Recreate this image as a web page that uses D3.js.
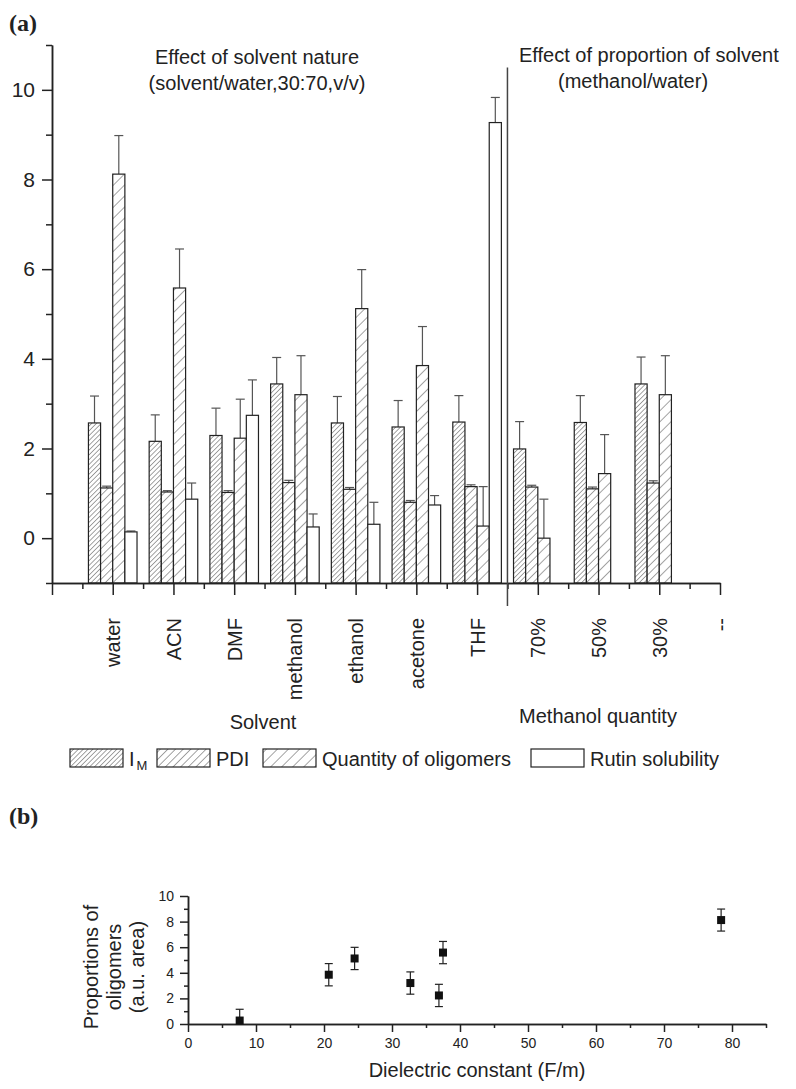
<!DOCTYPE html>
<html>
<head>
<meta charset="utf-8">
<script src="https://cdn.jsdelivr.net/npm/d3@7"></script>
<style>
  body { margin: 0; background: #fff; }
  svg { display: block; font-family: "Liberation Sans", Arial, sans-serif; }
</style>
</head>
<body>
<div id="chart"></div>
<script>
// ---- data, panel (a) ----
const categories = ["water", "ACN", "DMF", "methanol", "ethanol", "acetone", "THF", "70%", "50%", "30%"];
const tickLabels = ["water", "ACN", "DMF", "methanol", "ethanol", "acetone", "THF", "70%", "50%", "30%", "--"];
const imValues    = [2.57, 2.16, 2.29, 3.44, 2.57, 2.48, 2.59, 1.99, 2.58, 3.44];
const imErr       = [0.60, 0.59, 0.61, 0.59, 0.59, 0.59, 0.59, 0.61, 0.60, 0.60];
const pdiValues   = [1.12, 1.03, 1.02, 1.24, 1.09, 0.80, 1.15, 1.14, 1.10, 1.23];
const pdiErr      = [0.04, 0.03, 0.04, 0.05, 0.04, 0.04, 0.04, 0.04, 0.04, 0.05];
const oligValues  = [8.12, 5.58, 2.23, 3.20, 5.12, 3.85, 0.27, 0.00, 1.44, 3.20];
const oligErr     = [0.86, 0.87, 0.87, 0.87, 0.87, 0.87, 0.88, 0.87, 0.87, 0.87];
const rutinValues = [0.14, 0.87, 2.74, 0.25, 0.31, 0.74, 9.27, null, null, null];
const rutinErr    = [0.02, 0.36, 0.79, 0.29, 0.49, 0.21, 0.56, null, null, null];
const seriesNames = ["I", "PDI", "Quantity of oligomers", "Rutin solubility"];

// ---- data, panel (b) ----
const dielectric  = [78.4, 37.5, 36.9, 32.7, 24.5, 20.7, 7.6];
const oligProp    = [8.12, 5.58, 2.23, 3.20, 5.12, 3.85, 0.27];
const oligPropErr = [0.86, 0.87, 0.87, 0.87, 0.87, 0.87, 0.88];

const W = 796, H = 1089;
const svg = d3.select("#chart").append("svg")
  .attr("width", W).attr("height", H);

const ink = "#222";

// hatch patterns
const defs = svg.append("defs");
const hatch = [
  {id: "h0", gap: 3.4},
  {id: "h1", gap: 5.4},
  {id: "h2", gap: 7.8}
];
hatch.forEach(h => {
  const p = defs.append("pattern")
    .attr("id", h.id)
    .attr("patternUnits", "userSpaceOnUse")
    .attr("width", h.gap).attr("height", h.gap)
    .attr("patternTransform", "rotate(45)");
  p.append("rect").attr("width", h.gap).attr("height", h.gap).attr("fill", "#fff");
  p.append("line")
    .attr("x1", 0).attr("y1", 0).attr("x2", 0).attr("y2", h.gap)
    .attr("stroke", "#333").attr("stroke-width", 0.9);
});
const fills = ["url(#h0)", "url(#h1)", "url(#h2)", "#fff"];

// ================= panel (a) =================
const x = d3.scaleLinear().domain([0, 11]).range([52, 720]);
const y = d3.scaleLinear().domain([-1, 11]).range([583, 45]);
const barW = 0.2;

const series = [
  {vals: imValues, errs: imErr},
  {vals: pdiValues, errs: pdiErr},
  {vals: oligValues, errs: oligErr},
  {vals: rutinValues, errs: rutinErr}
];

series.forEach((s, si) => {
  const rows = categories.map((c, i) => ({i, v: s.vals[i], e: s.errs[i]}))
    .filter(d => d.v !== null);
  const g = svg.append("g");
  // error bars (upper only)
  rows.forEach(d => {
    const cx = x(d.i + 1 - 0.4 + barW * si + barW / 2);
    g.append("line")
      .attr("x1", cx).attr("x2", cx)
      .attr("y1", y(d.v)).attr("y2", y(d.v + d.e))
      .attr("stroke", "#555").attr("stroke-width", 1.2);
    g.append("line")
      .attr("x1", cx - 4.5).attr("x2", cx + 4.5)
      .attr("y1", y(d.v + d.e)).attr("y2", y(d.v + d.e))
      .attr("stroke", "#555").attr("stroke-width", 1.2);
  });
  g.selectAll("rect")
    .data(rows)
    .enter().append("rect")
    .attr("x", d => x(d.i + 1 - 0.4 + barW * si))
    .attr("width", x(barW) - x(0))
    .attr("y", d => y(d.v))
    .attr("height", d => y(-1) - y(d.v))
    .attr("fill", fills[si])
    .attr("stroke", ink)
    .attr("stroke-width", 1.2);
});

// y axis
const yAxis = svg.append("g")
  .attr("transform", `translate(${x(0)},0)`)
  .call(d3.axisLeft(y).tickValues([0, 2, 4, 6, 8, 10]).tickSize(10).tickSizeOuter(0).tickPadding(7));
svg.append("g")
  .attr("transform", `translate(${x(0)},0)`)
  .call(d3.axisLeft(y).tickValues([-1, 1, 3, 5, 7, 9, 11]).tickSize(6).tickSizeOuter(0).tickFormat(""));

// x axis
const xAxis = svg.append("g")
  .attr("transform", `translate(0,${y(-1)})`)
  .call(d3.axisBottom(x).tickValues(d3.range(0, 12)).tickSize(12).tickSizeOuter(0)
    .tickFormat(d => d === 0 ? "" : tickLabels[d - 1]));
xAxis.selectAll("text")
  .attr("transform", "rotate(-90)")
  .attr("x", -35).attr("y", 0)
  .attr("dy", "0.35em")
  .style("text-anchor", "end");
svg.append("g")
  .attr("transform", `translate(0,${y(-1)})`)
  .call(d3.axisBottom(x).tickValues(d3.range(0.5, 11, 1)).tickSize(6).tickSizeOuter(0).tickFormat(""));

yAxis.selectAll("text").attr("font-size", 21).attr("fill", ink);
xAxis.selectAll("text").attr("font-size", 20).attr("fill", ink);

// divider line
svg.append("line")
  .attr("x1", x(7.5)).attr("x2", x(7.5))
  .attr("y1", y(10.5)).attr("y2", y(-1) + 23)
  .attr("stroke", "#444").attr("stroke-width", 1.5);

// annotations
const txt = (t, tx, ty, size, anchor) => svg.append("text")
  .attr("x", tx).attr("y", ty).attr("font-size", size)
  .attr("text-anchor", anchor || "middle").attr("fill", ink).text(t);
txt("Effect of solvent nature", 257, 64, 20);
txt("(solvent/water,30:70,v/v)", 257, 90, 20);
txt("Effect of proportion of solvent", 519, 62, 20, "start");
txt("(methanol/water)", 558, 88, 20, "start");
txt("Solvent", 263, 729, 20);
txt("Methanol quantity", 598, 723, 20);

svg.append("text").attr("x", 9).attr("y", 31)
  .attr("font-family", "Liberation Serif, serif").attr("font-weight", "bold")
  .attr("font-size", 24).attr("fill", ink).text("(a)");
svg.append("text").attr("x", 9).attr("y", 824)
  .attr("font-family", "Liberation Serif, serif").attr("font-weight", "bold")
  .attr("font-size", 24).attr("fill", ink).text("(b)");

// legend
const legendX = [70, 157, 263, 531];
seriesNames.forEach((name, i) => {
  svg.append("rect")
    .attr("x", legendX[i]).attr("y", 749)
    .attr("width", 53).attr("height", 18)
    .attr("fill", fills[i]).attr("stroke", ink).attr("stroke-width", 1.2);
  const t = svg.append("text")
    .attr("x", legendX[i] + 59).attr("y", 766)
    .attr("font-size", 20).attr("fill", ink).text(name);
  if (i === 0) {
    t.append("tspan").attr("font-size", 13).attr("dx", 2).attr("dy", 4).text("M");
  }
});

// ================= panel (b) =================
const bx = d3.scaleLinear().domain([0, 85]).range([188, 766]);
const by = d3.scaleLinear().domain([0, 10]).range([1024, 896]);

const bxAxis = svg.append("g")
  .attr("transform", `translate(0,${by(0)})`)
  .call(d3.axisBottom(bx).tickValues(d3.range(0, 81, 10)).tickSize(8).tickSizeOuter(0).tickPadding(6));
svg.append("g")
  .attr("transform", `translate(0,${by(0)})`)
  .call(d3.axisBottom(bx).tickValues(d3.range(5, 86, 10)).tickSize(4).tickSizeOuter(0).tickFormat(""));
const byAxis = svg.append("g")
  .attr("transform", `translate(${bx(0)},0)`)
  .call(d3.axisLeft(by).tickValues(d3.range(0, 11, 2)).tickSize(8).tickSizeOuter(0).tickPadding(6));
svg.append("g")
  .attr("transform", `translate(${bx(0)},0)`)
  .call(d3.axisLeft(by).tickValues(d3.range(1, 10, 2)).tickSize(4).tickSizeOuter(0).tickFormat(""));
[bxAxis, byAxis].forEach(a => a.selectAll("text").attr("font-size", 14).attr("fill", ink));
svg.selectAll(".domain, .tick line").attr("stroke", ink).attr("stroke-width", 1.5);

const pts = dielectric.map((d, i) => ({x: d, y: oligProp[i], e: oligPropErr[i]}));
pts.forEach(p => {
  const cx = bx(p.x);
  const lo = Math.max(0, p.y - p.e), hi = p.y + p.e;
  svg.append("line").attr("x1", cx).attr("x2", cx)
    .attr("y1", by(lo)).attr("y2", by(hi)).attr("stroke", ink).attr("stroke-width", 1.2);
  [hi, lo].forEach(v => {
    if (v === 0) return;
    svg.append("line").attr("x1", cx - 4).attr("x2", cx + 4)
      .attr("y1", by(v)).attr("y2", by(v)).attr("stroke", ink).attr("stroke-width", 1.2);
  });
});
svg.append("g").selectAll("rect")
  .data(pts).enter().append("rect")
  .attr("x", d => bx(d.x) - 4).attr("y", d => by(d.y) - 4)
  .attr("width", 8).attr("height", 8).attr("fill", "#111");

txt("Dielectric constant (F/m)", 477, 1077, 20);
const yl = svg.append("text")
  .attr("transform", "translate(110,967) rotate(-90)")
  .attr("text-anchor", "middle").attr("font-size", 20).attr("fill", ink);
["Proportions of", "oligomers", "(a.u. area)"].forEach((l, i) => {
  yl.append("tspan").attr("x", 0).attr("dy", i === 0 ? "-0.6em" : "1.15em").text(l);
});
</script>
</body>
</html>
